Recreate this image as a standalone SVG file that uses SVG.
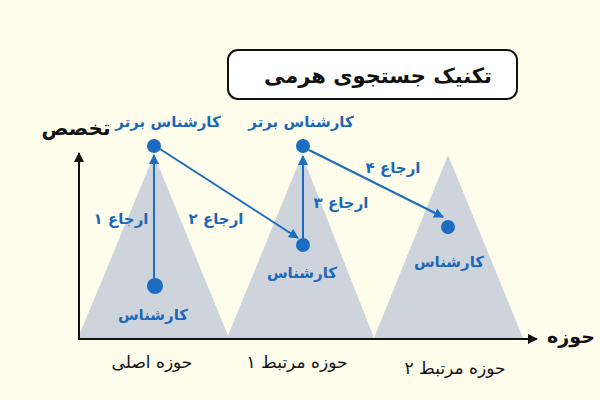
<svg xmlns="http://www.w3.org/2000/svg" width="600" height="400" viewBox="0 0 600 400">
<defs>
<style>
.tri{fill:#CED4DC}
.dot{fill:#1C6DC2}
.con{stroke:#1C6DC2;stroke-width:2;fill:none}
.axis{stroke:#111;stroke-width:2;fill:none}
.bl{font-family:"DejaVu Sans",sans-serif;fill:#1C68B8;font-size:15px;font-weight:bold;text-anchor:middle;direction:rtl}
.bk{font-family:"DejaVu Sans",sans-serif;fill:#111;font-size:17px;text-anchor:middle;direction:rtl}
.ax{font-family:"DejaVu Sans",sans-serif;fill:#111;font-size:20px;font-weight:bold;text-anchor:middle;direction:rtl}
</style>
<marker id="ab" viewBox="0 0 10 10" refX="9" refY="5" markerWidth="5" markerHeight="5" orient="auto"><path d="M0,0 L10,5 L0,10 z" fill="#1C6DC2"/></marker>
<marker id="ak" viewBox="0 0 10 10" refX="9" refY="5" markerWidth="5" markerHeight="5" orient="auto"><path d="M0,0 L10,5 L0,10 z" fill="#111"/></marker>
</defs>
<rect width="600" height="400" fill="#FEFDEC"/>
<g id="title">
<rect x="228" y="50" width="289" height="49" rx="10" fill="#fff" stroke="#111" stroke-width="2"/>
<text x="378" y="83" class="ax" style="font-size:21px">تکنیک جستجوی هرمی</text>
</g>
<g id="pyramid1">
<polygon class="tri" points="78,338 154,155 229,338"/>
<circle class="dot" cx="154" cy="146" r="7"/>
<circle class="dot" cx="155" cy="286" r="8"/>
<text class="bl" x="168" y="127">کارشناس برتر</text>
<text class="bl" x="153" y="320">کارشناس</text>
<text class="bk" x="152" y="368">حوزه اصلی</text>
</g>
<g id="pyramid2">
<polygon class="tri" points="227,338 302,155 374,338"/>
<circle class="dot" cx="303" cy="146" r="7"/>
<circle class="dot" cx="303" cy="245" r="7"/>
<text class="bl" x="301" y="127">کارشناس برتر</text>
<text class="bl" x="302" y="278">کارشناس</text>
<text class="bk" x="297" y="368">حوزه مرتبط ۱</text>
</g>
<g id="pyramid3">
<polygon class="tri" points="374,338 448,155 523,338"/>
<circle class="dot" cx="448" cy="227" r="7"/>
<text class="bl" x="449" y="267">کارشناس</text>
<text class="bk" x="455" y="374">حوزه مرتبط ۲</text>
</g>
<g id="axes">
<line class="axis" x1="79" y1="339" x2="79" y2="153" marker-end="url(#ak)"/>
<line class="axis" x1="78" y1="339" x2="537" y2="339" marker-end="url(#ak)"/>
<text class="ax" x="76" y="135">تخصص</text>
<text class="ax" x="571" y="343" style="font-size:19px">حوزه</text>
</g>
<g id="connectors">
<line class="con" x1="154" y1="278" x2="154" y2="155" marker-end="url(#ab)"/>
<line class="con" x1="160" y1="149" x2="298" y2="238" marker-end="url(#ab)"/>
<line class="con" x1="303" y1="238" x2="303" y2="156" marker-end="url(#ab)"/>
<line class="con" x1="309" y1="150" x2="443" y2="217" marker-end="url(#ab)"/>
<text class="bl" x="121" y="224">ارجاع ۱</text>
<text class="bl" x="216" y="224">ارجاع ۲</text>
<text class="bl" x="341" y="208">ارجاع ۳</text>
<text class="bl" x="393" y="173">ارجاع ۴</text>
</g>
</svg>
